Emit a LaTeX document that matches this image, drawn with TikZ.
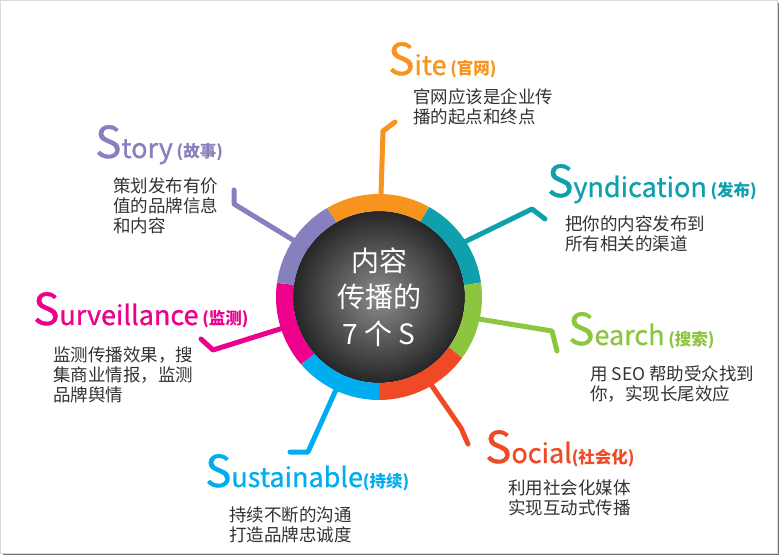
\documentclass[tikz,border=0pt]{standalone}
\usepackage{fontspec}
\setmainfont{Noto Sans CJK SC}
\newfontfamily\titlefont[FakeBold=0.8]{Noto Sans CJK SC}
\usepackage{tikz}
\usetikzlibrary{backgrounds}
\definecolor{siteorange}{HTML}{F7941D}
\definecolor{syndteal}{HTML}{0FA0AE}
\definecolor{searchgreen}{HTML}{8CC63F}
\definecolor{socialred}{HTML}{EF4A25}
\definecolor{sustblue}{HTML}{00AEEF}
\definecolor{survmagenta}{HTML}{EC008C}
\definecolor{storypurple}{HTML}{8680BE}
\definecolor{txtgray}{HTML}{333333}

% big first letter, rest of the word, chinese tag
\newcommand\sword[3]{{\titlefont\fontsize{44}{44}\selectfont #1}{\titlefont\fontsize{27}{27}\selectfont #2}{\fontsize{16.5}{16.5}\selectfont\bfseries #3}}

\begin{document}
\begin{tikzpicture}[
  x=1pt, y=-1pt,
  ringarc/.style={line width=17pt},
  link/.style={line width=5pt, line cap=round, line join=round},
  title/.style={anchor=base west, inner sep=0pt, text=#1},
  blurb/.style={anchor=north west, inner sep=0pt, align=left, text=txtgray,
    font=\fontsize{17.5}{20}\selectfont},
]
\useasboundingbox (0,0) rectangle (780,556);

% center disc
\node[circle, minimum size=172pt, inner sep=0pt, inner color=black!45, outer color=black!85,
  text=white, align=center, font=\fontsize{28}{36.5}\selectfont] (core) at (379,297) {内容\\传播的\\7 个 S};

% colour ring
\begin{scope}[shift={(core.center)}, y=1pt]
  \foreach \from/\to/\col in {61/120/siteorange, 8/61/syndteal, -36/8/searchgreen,
      -90/-36/socialred, -139/-90/sustblue, -188/-139/survmagenta, 120/172/storypurple}
    \draw[ringarc, \col] (\from:94.5) arc[start angle=\from, end angle=\to, radius=94.5];
\end{scope}

% free ends of the connectors
\coordinate (site-end) at (395,122);
\coordinate (story-end) at (234,190);
\coordinate (synd-end) at (545,219);
\coordinate (search-end) at (557,351);
\coordinate (social-end) at (468,444);
\coordinate (sust-end) at (290,452);
\coordinate (surv-end) at (201,339);

\begin{scope}[on background layer]
  % frame
  \fill[black!55] (3,3) rectangle (779,555);
  \filldraw[fill=white, draw=black!15] (0.5,0.5) rectangle (777,553);
  % connectors
  \draw[link, siteorange] (core.89) -- (383,131) -- (site-end);
  \draw[link, storypurple] (core.146) -- (234,204) -- (story-end);
  \draw[link, syndteal] (core.34) -- (532,209) -- (synd-end);
  \draw[link, searchgreen] (core.-13) -- (552,331) -- (search-end);
  \draw[link, socialred] (core.-60) -- (461,428) -- (social-end);
  \draw[link, sustblue] (core.-115) -- (308,452) -- (sust-end);
  \draw[link, survmagenta] (core.-162) -- (213,350) -- (surv-end);
\end{scope}

% titles
\node[title=siteorange] (site) at (388,75) {\sword{S}{ite}{ (官网)}};
\node[title=storypurple] (story) at (95,158) {\sword{S}{tory}{ (故事)}};
\node[title=syndteal] (synd) at (547,197) {\sword{S}{yndication}{ (发布)}};
\node[title=searchgreen] (search) at (568,345) {\sword{S}{earch}{ (搜索)}};
\node[title=socialred] (social) at (485,463) {\sword{S}{ocial}{(社会化)}};
\node[title=sustblue] (sust) at (205,487) {\sword{S}{ustainable}{(持续)}};
\node[title=survmagenta] (surv) at (33,325) {\sword{S}{urveillance}{ (监测)}};

% descriptions
\node[blurb] (site-text) at (413,88) {官网应该是企业传\\播的起点和终点};
\node[blurb] (story-text) at (113,178) {策划发布有价\\值的品牌信息\\和内容};
\node[blurb] (synd-text) at (565,215) {把你的内容发布到\\所有相关的渠道};
\node[blurb] (search-text) at (590,365) {用 SEO 帮助受众找到\\你，实现长尾效应};
\node[blurb] (social-text) at (508,480) {利用社会化媒体\\实现互动式传播};
\node[blurb] (sust-text) at (229,507) {持续不断的沟通\\打造品牌忠诚度};
\node[blurb] (surv-text) at (53,347) {监测传播效果，搜\\集商业情报，监测\\品牌舆情};

\end{tikzpicture}
\end{document}
